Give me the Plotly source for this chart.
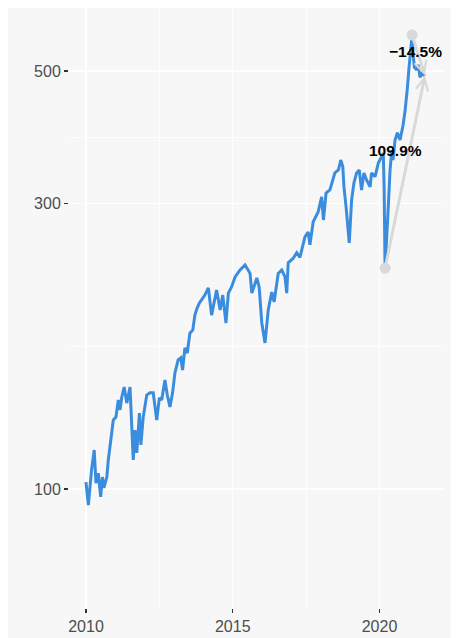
import math
import plotly.graph_objects as go

# ---- data ----
years = [2010.00, 2010.08, 2010.19, 2010.28, 2010.34, 2010.42, 2010.50, 2010.56, 2010.61, 2010.71,
         2010.76, 2010.84, 2010.93, 2011.02, 2011.10, 2011.16, 2011.22, 2011.30, 2011.39, 2011.50,
         2011.56, 2011.61, 2011.67, 2011.73, 2011.82, 2011.87, 2011.95, 2012.07, 2012.18, 2012.29,
         2012.41, 2012.50, 2012.58, 2012.69, 2012.77, 2012.86, 2012.95, 2013.03, 2013.14, 2013.23,
         2013.29, 2013.37, 2013.45, 2013.54, 2013.64, 2013.71, 2013.79, 2013.86, 2014.05, 2014.17,
         2014.28, 2014.45, 2014.57, 2014.66, 2014.77, 2014.85, 2014.96, 2015.08, 2015.25, 2015.42,
         2015.59, 2015.65, 2015.72, 2015.82, 2015.90, 2015.99, 2016.10, 2016.21, 2016.33, 2016.41,
         2016.55, 2016.67, 2016.78, 2016.84, 2016.89, 2017.06, 2017.18, 2017.29, 2017.46, 2017.57,
         2017.63, 2017.74, 2017.91, 2018.03, 2018.09, 2018.18, 2018.31, 2018.48, 2018.60, 2018.68,
         2018.75, 2018.79, 2018.86, 2018.97, 2019.05, 2019.13, 2019.22, 2019.31, 2019.39, 2019.47,
         2019.56, 2019.68, 2019.73, 2019.85, 2019.96, 2020.07, 2020.13, 2020.16, 2020.19, 2020.30,
         2020.36, 2020.42, 2020.46, 2020.53, 2020.61, 2020.70, 2020.80, 2020.87, 2020.92, 2020.95,
         2021.00, 2021.06, 2021.11, 2021.14, 2021.19, 2021.27, 2021.32, 2021.38, 2021.44, 2021.55]

values = [102.7, 94.0, 107.6, 116.2, 102.3, 106.3, 97.0, 104.7, 100.4, 104.7,
          111.8, 120.8, 130.4, 131.9, 140.9, 135.6, 142.5, 148.1, 139.2, 148.1,
          126.9, 111.8, 125.5, 114.9, 134.0, 118.5, 131.9, 143.6, 144.8, 144.8,
          130.4, 142.0, 140.9, 152.2, 143.6, 137.2, 144.8, 156.3, 164.4, 165.7,
          158.1, 172.2, 168.8, 182.2, 184.5, 195.3, 200.9, 204.5, 211.0, 216.9,
          195.3, 215.2, 199.3, 211.0, 189.5, 212.6, 217.7, 226.3, 232.4, 237.0,
          229.4, 212.6, 217.7, 225.4, 217.7, 189.5, 175.5, 199.3, 213.5, 205.5,
          229.4, 232.4, 226.3, 212.6, 238.9, 243.0, 248.4, 244.0, 263.9, 269.0,
          256.0, 279.6, 290.6, 307.9, 281.7, 312.5, 316.2, 337.7, 341.5, 354.9,
          345.7, 320.0, 296.6, 257.9, 304.3, 325.0, 337.7, 341.5, 316.2, 337.7,
          328.6, 320.0, 337.7, 332.9, 350.7, 358.4, 364.0, 316.2, 234.0, 296.6,
          341.5, 368.8, 354.9, 383.3, 394.2, 383.3, 405.0, 428.0, 447.0, 468.0,
          502.0, 552.0, 574.5, 537.0, 507.0, 502.0, 512.0, 488.0, 495.0, 491.2]

# change annotations: start points (trough, peak) -> last point
change_start_years = [2020.19, 2021.11]
change_start_values = [234.0, 574.5]
change_labels = ["109.9%", "\u221214.5%"]
label_years = [2020.56, 2021.21]
label_values = [368.8, 538.0]

y_tick_vals = [100, 300, 500]
y_minor_vals = [173.2, 387.3]
x_tick_vals = [2010, 2015, 2020]
x_minor_vals = [2012.5, 2017.5]

BG = "#f7f7f7"
BLUE = "#3a8dde"
GREY = "#d9d9d9"
FONT = "Liberation Sans, Arial, Helvetica, sans-serif"

# the page adds an 8px body margin at left/top
W, H = 451, 630
ml, mr, mt, mb = 61, 16, 0, 30
PW, PH = W - ml - mr, H - mt - mb

fig = go.Figure()

fig.add_trace(go.Scatter(
    x=years, y=values, mode="lines",
    line=dict(color=BLUE, width=3), hoverinfo="skip", showlegend=False))

fig.add_trace(go.Scatter(
    x=change_start_years, y=change_start_values, mode="markers",
    marker=dict(color=GREY, size=11), hoverinfo="skip", showlegend=False))

end_x, end_y = years[-1], values[-1]
for sx, sy in zip(change_start_years, change_start_values):
    fig.add_annotation(
        x=end_x, y=math.log10(end_y), xref="x", yref="y",
        ax=sx, ay=math.log10(sy), axref="x", ayref="y",
        text="", showarrow=True, arrowhead=5, arrowsize=0.8,
        arrowwidth=3, arrowcolor=GREY, standoff=0, startstandoff=0)

for lx, ly, lab in zip(label_years, label_values, change_labels):
    fig.add_annotation(
        x=lx, y=math.log10(ly), xref="x", yref="y", text=lab, showarrow=False,
        font=dict(family=FONT, size=15.5, color="black", weight="bold"))

# grey plot background, leaving a white strip at the right edge
fig.add_shape(type="rect", xref="paper", yref="paper",
              x0=-ml / PW - 0.01, x1=(445 - ml) / PW,
              y0=-mb / PH - 0.01, y1=1 + mt / PH + 0.01,
              fillcolor=BG, line=dict(width=0), layer="below")

axis_common = dict(
    showgrid=True, gridcolor="white", gridwidth=1.5,
    zeroline=False, showline=False,
    ticks="outside", ticklen=4, tickwidth=1.1, tickcolor="#333333",
    tickfont=dict(family=FONT, size=16, color="#4d4d4d"),
    fixedrange=True,
)

fig.update_layout(
    width=W, height=H,
    margin=dict(l=ml, r=mr, t=mt, b=mb, pad=0),
    paper_bgcolor="white", plot_bgcolor=BG,
    hovermode=False,
    xaxis=dict(range=[2009.421, 2022.164], tickmode="array", tickvals=x_tick_vals,
               ticktext=[str(v) for v in x_tick_vals],
               minor=dict(tickmode="array", tickvals=x_minor_vals, showgrid=True,
                          gridcolor="white", gridwidth=0.8, ticks=""),
               **axis_common),
    yaxis=dict(type="log", range=[1.8010, 2.8043], tickmode="array", tickvals=y_tick_vals,
               ticktext=[str(v) for v in y_tick_vals],
               minor=dict(tickmode="array", tickvals=y_minor_vals, showgrid=True,
                          gridcolor="white", gridwidth=0.8, ticks=""),
               **axis_common),
    showlegend=False,
)

fig.write_html("out.html", config={"displayModeBar": False, "staticPlot": True})
